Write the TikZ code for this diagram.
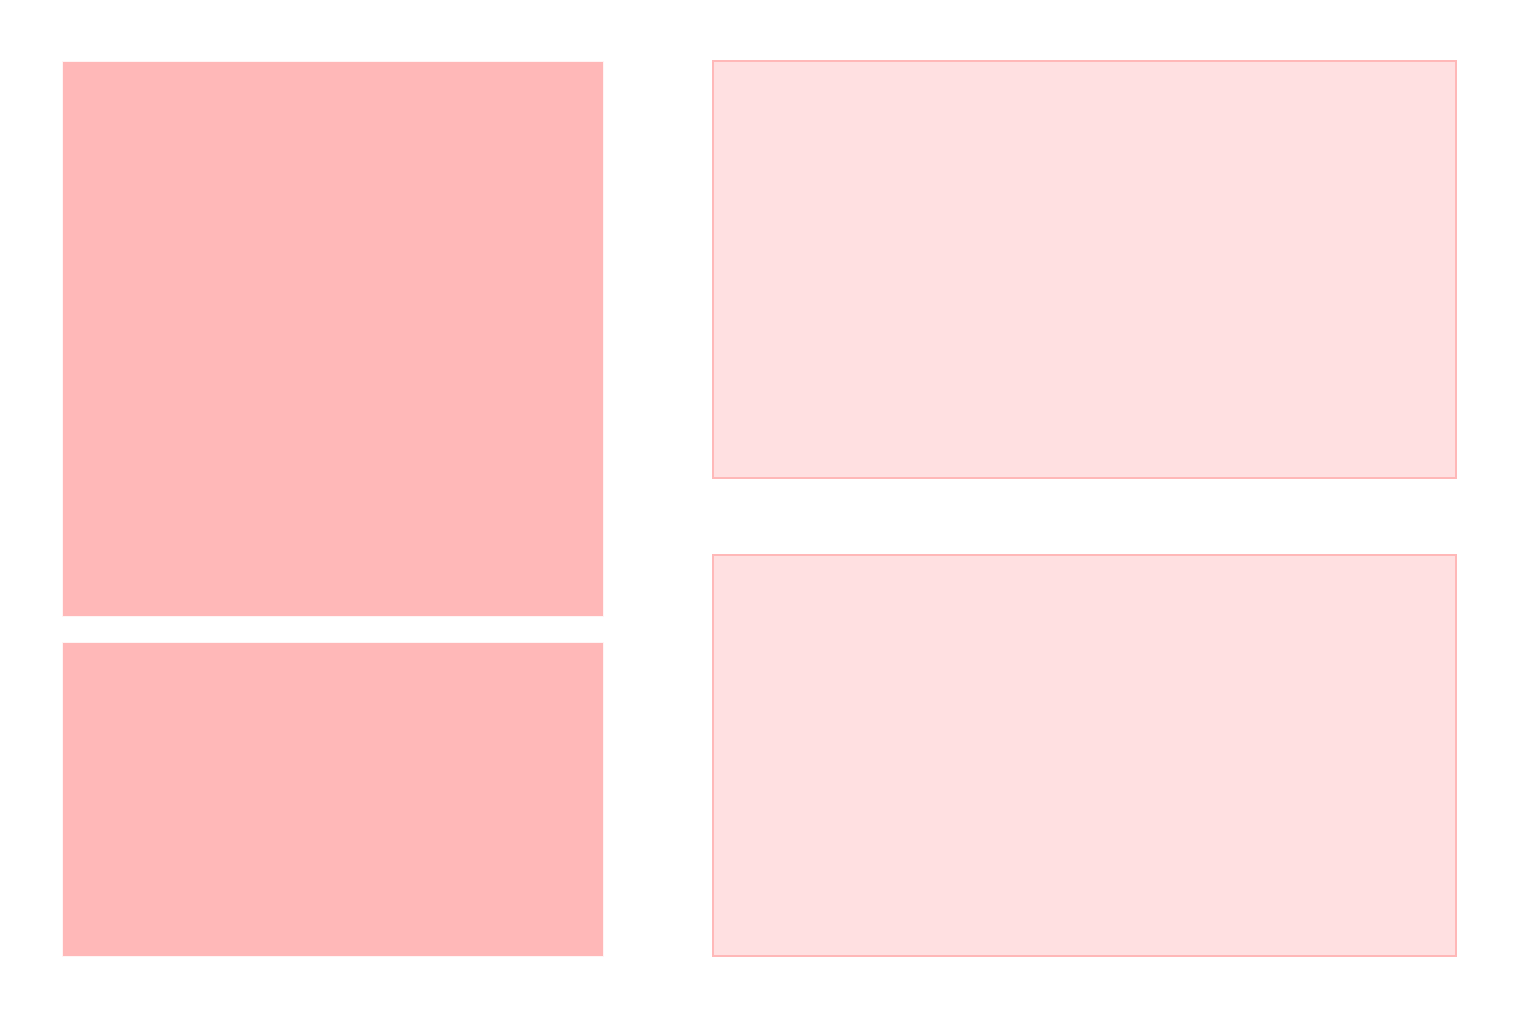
\documentclass[tikz,border=0pt]{standalone}
\definecolor{solidpink}{HTML}{FFB8B8}
\definecolor{palepink}{HTML}{FFE0E1}
\definecolor{faintpink}{HTML}{FFF4F4}
\tikzset{
  solidbox/.style={rectangle, fill=solidpink, draw=faintpink, line width=1pt, inner sep=0pt, outer sep=0pt},
  palebox/.style={rectangle, fill=palepink, draw=solidpink, line width=1.3pt, inner sep=0pt, outer sep=0pt}
}
\begin{document}
\begin{tikzpicture}[x=1pt,y=-1pt]
  \useasboundingbox (0,0) rectangle (1536,1024);
  \node[solidbox, minimum width=541pt, minimum height=554pt] (leftTop) at (332.5,339) {};
  \node[solidbox, minimum width=541pt, minimum height=314pt] (leftBottom) at (332.5,799) {};
  \node[palebox, minimum width=743pt, minimum height=417pt] (rightTop) at (1084.5,269.5) {};
  \node[palebox, minimum width=743pt, minimum height=401pt] (rightBottom) at (1084.5,755.5) {};
\end{tikzpicture}
\end{document}
